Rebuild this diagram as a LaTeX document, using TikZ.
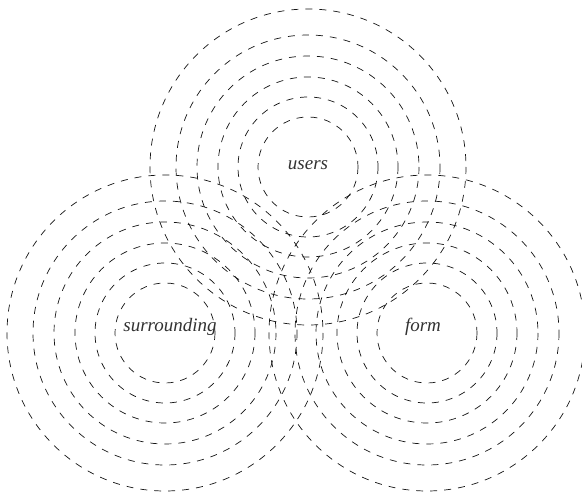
\documentclass[tikz,border=0pt]{standalone}
\usepackage{fontspec}
\setmainfont{Liberation Serif}
\begin{document}
\begin{tikzpicture}[x=1pt,y=-1pt]
    \definecolor{myring}{RGB}{20,20,20}
    \definecolor{mytext}{RGB}{50,50,50}
    \tikzset{ring/.style={dash pattern=on 7pt off 7pt, line width=0.7pt, myring},
             lbl/.style={font=\fontsize{19}{21}\selectfont\itshape, text=mytext, inner sep=0pt}}
    
    \useasboundingbox (0,0) rectangle (582,497);
    
    \coordinate (cu) at (308,167);
    \coordinate (cs) at (165,333);
    \coordinate (cf) at (427,333);
    
    \foreach \c in {cu,cs,cf} {
        \foreach \r in {50,70,90,111,132,158} {
            \draw[ring] (\c) circle[radius=\r];
        }
    }
    
    \node[lbl] (users) at (308,165) {users};
    \node[lbl] (surrounding) at (170,327) {surrounding};
    \node[lbl] (form) at (423,327) {form};
\end{tikzpicture}
\end{document}
